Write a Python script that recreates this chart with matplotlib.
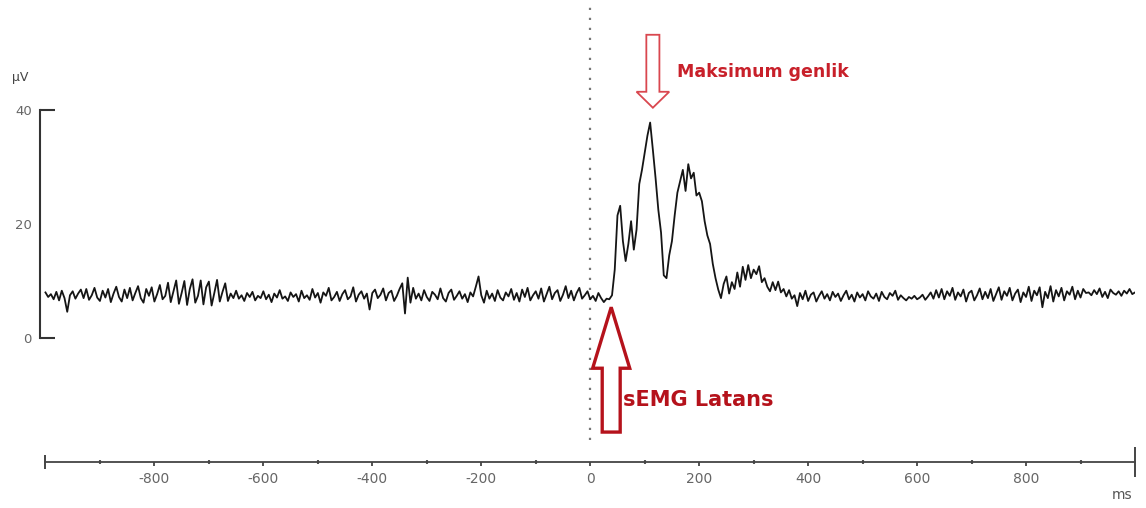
import numpy as np
import matplotlib
matplotlib.use("Agg")
import matplotlib.pyplot as plt
from matplotlib.patches import FancyArrow
import matplotlib.transforms as mtransforms

plt.rcParams['axes.unicode_minus'] = False

# ---- data (µV), sampled every 5 ms starting at -1000 ms ----
start_ms = -1000
sample_step_ms = 5

# -1000 .. 30 ms (207 samples)
pre_stim = [
    8.0, 7.2, 7.7, 6.8, 8.1, 6.6, 8.3, 7.0, 4.6, 7.5,
    8.2, 6.9, 7.8, 8.5, 7.0, 8.6, 6.7, 7.5, 8.8, 7.1,
    6.5, 8.3, 7.1, 8.6, 6.3, 7.8, 9.0, 7.2, 6.4, 8.5,
    7.0, 8.8, 6.6, 7.9, 9.1, 7.0, 6.2, 8.6, 7.4, 8.9,
    6.4, 7.7, 9.3, 6.8, 7.4, 9.7, 6.3, 8.2, 10.1, 6.0,
    7.9, 10.0, 5.8, 8.6, 10.3, 6.2, 7.4, 10.1, 5.9, 8.9,
    9.9, 5.7, 7.9, 10.2, 6.4, 8.1, 9.6, 6.5, 7.8, 7.0,
    8.3, 6.9, 7.5, 6.5, 7.9, 7.2, 8.1, 6.6, 7.4, 7.0,
    8.2, 6.8, 7.6, 6.3, 7.8, 7.1, 8.4, 6.9, 7.3, 6.5,
    8.0, 7.2, 7.7, 6.4, 8.3, 7.0, 7.5, 6.7, 8.6, 7.1,
    7.9, 6.2, 8.0, 7.4, 8.8, 6.6, 7.2, 8.1, 6.5, 7.7,
    8.4, 6.8, 7.3, 8.9, 6.4, 7.6, 8.2, 6.9, 7.8, 5.0,
    7.9, 8.5, 7.0, 7.6, 8.7, 6.6, 7.9, 8.3, 6.5, 7.4,
    8.6, 9.6, 4.3, 10.6, 6.2, 8.8, 6.9, 7.8, 6.6, 8.4,
    7.2, 6.5, 8.1, 7.6, 6.8, 8.7, 7.0, 6.4, 7.9, 8.5,
    6.7, 7.4, 8.2, 6.9, 7.7, 6.3, 8.0, 7.3, 9.0, 10.8,
    7.5, 6.2, 8.3, 6.9, 7.8, 6.5, 8.4, 7.1, 6.6, 8.0,
    7.3, 8.6, 6.7, 7.9, 6.4, 8.5, 7.2, 8.8, 6.6, 7.5,
    8.2, 6.9, 8.7, 6.4, 7.7, 9.0, 6.8, 7.9, 8.4, 6.5,
    7.6, 9.1, 7.0, 8.3, 6.6, 7.9, 8.8, 6.9, 7.5, 8.2,
    6.8, 7.4, 6.5, 7.9, 7.0, 6.3, 6.9,
]

# 35 .. 375 ms (69 samples)
response = [
    6.8, 7.5, 12.0, 21.5, 23.2, 17.0, 13.5, 16.5, 20.5, 15.5,
    19.0, 27.0, 29.5, 32.5, 35.5, 37.8, 33.0, 28.0, 22.5, 18.5,
    11.0, 10.5, 14.5, 17.0, 21.5, 25.5, 27.5, 29.5, 25.8, 30.5,
    28.0, 29.0, 25.0, 25.5, 24.0, 20.5, 18.0, 16.5, 13.0, 10.5,
    8.5, 7.0, 9.5, 10.8, 7.8, 9.8, 8.6, 11.5, 9.0, 12.5,
    10.2, 12.8, 10.5, 12.0, 11.2, 12.6, 9.8, 10.5, 9.0, 8.2,
    9.8, 8.4, 9.9, 8.0, 8.6, 7.3, 8.4, 6.9, 7.5,
]

# 380 .. 1000 ms (125 samples)
post_response = [
    5.6, 7.9, 6.8, 8.3, 6.5, 7.6, 8.0, 6.4, 7.4, 8.2,
    6.9, 7.7, 6.6, 8.1, 7.2, 7.8, 6.5, 7.5, 8.3, 6.8,
    7.6, 6.4, 8.0, 7.1, 7.7, 6.6, 8.2, 7.3, 6.9, 7.8,
    6.5, 8.1, 7.2, 6.8, 7.9, 7.4, 8.3, 6.7, 7.5, 7.0,
    6.6, 7.2, 6.9, 7.4, 6.8, 7.1, 7.6, 6.7, 7.3, 8.0,
    6.9, 8.4, 7.1, 8.6, 6.8, 8.2, 7.4, 8.8, 6.7, 8.0,
    7.3, 8.5, 6.4, 7.9, 8.3, 6.6, 7.5, 8.7, 6.8, 8.1,
    7.0, 8.6, 6.5, 7.7, 8.9, 6.7, 8.2, 7.4, 8.8, 6.6,
    7.8, 8.5, 6.3, 8.0, 7.2, 9.0, 6.5, 8.3, 7.5, 8.9,
    5.4, 8.1, 7.0, 9.1, 6.4, 8.4, 7.3, 8.8, 6.6, 8.2,
    7.6, 9.0, 6.8, 8.3, 7.1, 8.6, 7.9, 8.0, 7.5, 8.4,
    7.7, 8.7, 7.2, 8.1, 7.0, 8.5, 7.9, 7.6, 8.2, 7.4,
    8.3, 7.8, 8.6, 7.7, 8.0,
]

x_major_ticks = [-800, -600, -400, -200, 0, 200, 400, 600, 800]
x_minor_ticks = [-900, -700, -500, -300, -100, 100, 300, 500, 700, 900]
y_ticks = [0, 20, 40]
y_tick_labels = ["0", "20", "40"]

values = np.array(pre_stim + response + post_response)
t = start_ms + sample_step_ms * np.arange(len(values))

W, H = 1146, 508
fig = plt.figure(figsize=(W / 100, H / 100), dpi=100)
ax = fig.add_axes([40 / W, (H - 462) / H, 1095 / W, 462 / H])
ax.set_xlim(-1010, 1000)
ax.set_ylim(-21.75, 59.3)
ax.set_facecolor('white')

for s in ('top', 'right'):
    ax.spines[s].set_visible(False)
ax.spines['left'].set_bounds(0, 40)
ax.spines['left'].set_color('#333333')
ax.spines['left'].set_linewidth(1.5)
ax.spines['bottom'].set_bounds(-1000, 1000)
ax.spines['bottom'].set_color('#444444')
ax.spines['bottom'].set_linewidth(1.3)

ax.set_yticks(y_ticks, y_tick_labels)
ax.tick_params(axis='y', direction='in', length=11, width=1.5, color='#333333',
               labelcolor='#666666', labelsize=9.5, pad=6)
ax.yaxis.get_major_ticks()[1].tick1line.set_visible(False)

ax.set_xticks(x_major_ticks)
ax.set_xticks(x_minor_ticks, minor=True)
ax.tick_params(axis='x', which='major', direction='out', length=3, width=1.3,
               color='#444444', labelcolor='#666666', labelsize=10, pad=4)
ax.tick_params(axis='x', which='minor', direction='inout', length=2.5, width=1.5,
               color='#555555')

# end caps of the time axis
trans = mtransforms.blended_transform_factory(ax.transData, ax.transAxes)
ax.plot([-1000], [0], transform=trans, marker='|', ms=10, mew=1.4,
        color='#444444', clip_on=False)
ax.plot([1000], [0], transform=trans, marker='|', ms=21, mew=1.4,
        color='#444444', clip_on=False)

# stimulus onset dotted line
ax.axvline(0, ymin=22 / 462, ymax=457 / 462, color='#777777',
           linestyle=(0, (1, 3.5)), linewidth=1.6, zorder=1)

# signal
ax.plot(t, values, color='#151515', linewidth=1.3, zorder=3)

# annotations
arrow_max = FancyArrow(115, 53.2, 0, -12.8, width=24, head_width=60, head_length=2.8,
                       length_includes_head=True, facecolor='white',
                       edgecolor='#d9474f', linewidth=1.3, zorder=4)
ax.add_patch(arrow_max)
ax.text(159, 46.7, "Maksimum genlik", color='#c8202a', fontsize=12.5,
        fontweight='bold', ha='left', va='center')

arrow_lat = FancyArrow(38.5, -16.5, 0, 21.9, width=33, head_width=68, head_length=10.7,
                       length_includes_head=True, facecolor='white',
                       edgecolor='#b5121b', linewidth=2.4, zorder=4)
ax.add_patch(arrow_lat)
ax.text(60, -10.9, "sEMG Latans", color='#b5121b', fontsize=15,
        fontweight='bold', ha='left', va='center')

fig.text(12 / W, 1 - 77 / H, "µV", fontsize=9, color='#444444', va='center', ha='left')
fig.text(1122 / W, 1 - 495 / H, "ms", fontsize=10, color='#555555', va='center', ha='center')

fig.savefig("out.png", dpi=100, facecolor='white')
